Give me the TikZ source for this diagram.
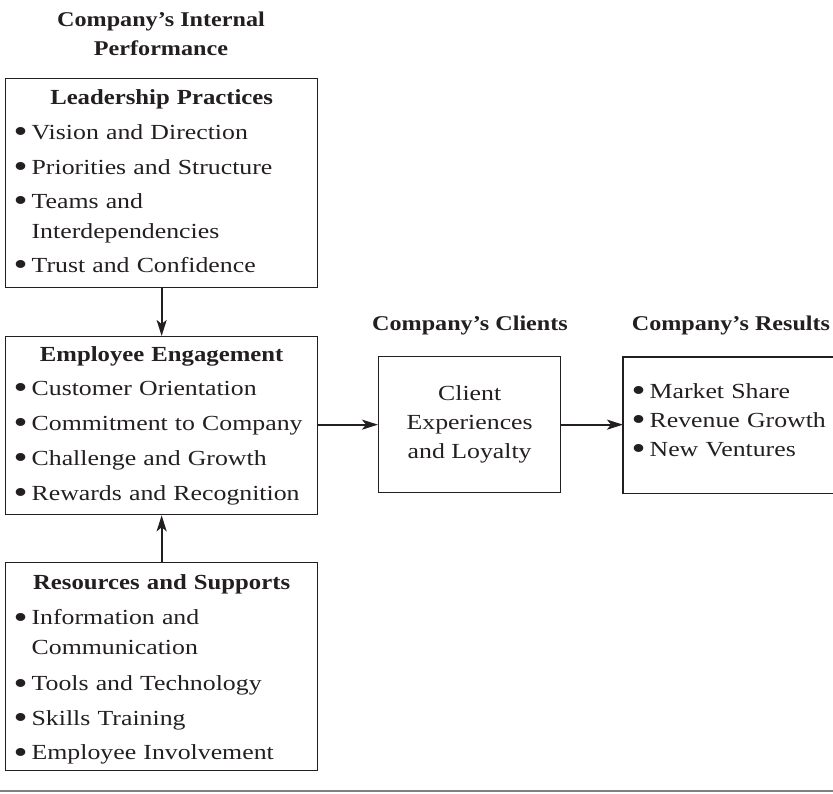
\documentclass[tikz,border=0pt]{standalone}
\usepackage{fontspec}
\setmainfont[FakeStretch=1.2,BoldFeatures={FakeStretch=1.15}]{Liberation Serif}
\usepackage{tikz}
\usetikzlibrary{arrows.meta,shapes,calc}
\definecolor{inkc}{RGB}{35,31,32}
\definecolor{rulec}{RGB}{128,128,128}
\newcommand{\dotb}{\raisebox{-3.2pt}[0pt][0pt]{\scalebox{1.55}{\textbullet}}}
\newcommand{\itm}{\makebox[18pt][l]{\dotb}}
\newcommand{\ind}{\hspace*{18pt}}
\tikzset{
  box/.style={draw=inkc, line width=1.3pt, anchor=north west, inner ysep=0pt,
    text=inkc, font=\fontsize{21.5}{30}\selectfont},
  listbox/.style={box, align=left, text width=296pt, inner xsep=8pt},
  head/.style={text=inkc, font=\fontsize{21}{29}\selectfont\bfseries, align=center}
}

\begin{document}
\begin{tikzpicture}[x=1pt,y=-1pt,thick,>={Stealth[length=16pt,width=10pt,inset=4pt]}]
\useasboundingbox (0,0) rectangle (833,793);

\node[head] (title) at (161,33.5) {Company's Internal\\Performance};
\node[head] (clth) at (470,325) {Company's Clients};
\node[head] (rslth) at (731,325) {Company's Results};

\node[listbox, minimum height=209pt] (lead) at (5,78) {%
{\centering\bfseries Leadership Practices\par}\vspace{5pt}
\itm Vision and Direction\\[4.5pt]
\itm Priorities and Structure\\[4.5pt]
\itm Teams and\\
\ind Interdependencies\\[4pt]
\itm Trust and Confidence\rule[-4pt]{0pt}{4pt}};

\node[listbox, minimum height=178pt] (emp) at (5,336) {%
{\centering\bfseries Employee Engagement\par}\vspace{4pt}
\itm Customer Orientation\\[5pt]
\itm \mbox{Commitment to Company}\\[5pt]
\itm Challenge and Growth\\[5pt]
\itm Rewards and Recognition};

\node[listbox, minimum height=208pt] (res) at (5,562) {%
{\centering\bfseries\rule{0pt}{21pt}Resources and Supports\par}\vspace{5pt}
\itm Information and\\
\ind Communication\\[6pt]
\itm Tools and Technology\\[4.5pt]
\itm Skills Training\\[4.5pt]
\itm Employee Involvement};

\node[box, align=center, minimum width=182pt, minimum height=136pt,
  font=\fontsize{21.5}{29}\selectfont] (clt) at (378,356)
  {Client\\Experiences\\and Loyalty};

% open on the right, runs off the page
\node[box, draw=none, align=left, text width=200pt, inner xsep=8pt,
  minimum height=135pt, font=\fontsize{21.5}{29}\selectfont] (rslt) at (623,357)
  {\itm Market Share\\
   \itm Revenue Growth\\
   \itm New Ventures\rule[-11pt]{0pt}{11pt}};
\draw[draw=inkc, line width=1.3pt] (rslt.north west) ++(210,0) -- (rslt.north west)
  -- (rslt.south west) -- ++(210,0);

\draw[inkc, line width=2pt, ->] (lead.south) -- (emp.north);
\draw[inkc, line width=2pt, ->] (res.north) -- (emp.south);
\draw[inkc, line width=2pt, ->] (emp.east |- clt.west) -- (clt.west);
\draw[inkc, line width=2pt, ->] (clt.east) -- (clt.east -| rslt.west);

\draw[rulec, line width=1.5pt] (0,791) -- (833,791);
\end{tikzpicture}
\end{document}
